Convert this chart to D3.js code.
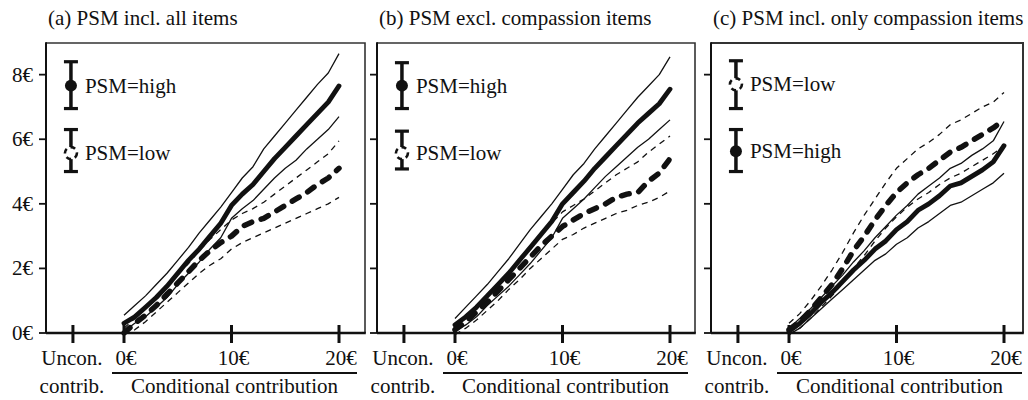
<!DOCTYPE html>
<html><head><meta charset="utf-8">
<script src="https://cdn.jsdelivr.net/npm/d3@7"></script>
<style>
body{margin:0;background:#fff}
svg{display:block}
text{font-family:"Liberation Serif","Times New Roman",serif;font-size:21px;fill:#111}
</style>
</head><body>
<svg id="chart" width="1028" height="400"></svg>
<script>
// ---------- data ----------
const xs = [0,1,2,3,4,5,6,7,8,9,10,11,12,13,14,15,16,17,18,19,20];
const panelTitles = ["(a) PSM incl. all items", "(b) PSM excl. compassion items", "(c) PSM incl. only compassion items"];
const yTicks = [0,2,4,6,8];
const yTickLabels = ["0€","2€","4€","6€","8€"];
const xTicks = [0,10,20];
const xTickLabels = ["0€","10€","20€"];
const unconPos = -4.75;
const unconLabel = ["Uncon.","contrib."];
const condLabel = "Conditional contribution";

// panel (a)
const aHiMean = [0.3,0.5,0.8,1.1,1.45,1.85,2.25,2.6,3.0,3.4,3.95,4.3,4.6,5.0,5.4,5.75,6.1,6.45,6.8,7.15,7.65];
const aHiUp   = [0.55,0.85,1.15,1.5,1.85,2.25,2.65,3.1,3.5,3.9,4.35,4.8,5.15,5.7,6.1,6.5,6.9,7.3,7.7,8.05,8.65];
const aHiLo   = [0.05,0.3,0.5,0.8,1.1,1.5,1.85,2.2,2.6,2.95,3.55,3.85,4.1,4.45,4.8,5.1,5.35,5.7,6.0,6.3,6.7];
const aLoMean = [0.0,0.3,0.55,0.85,1.2,1.55,1.9,2.25,2.55,2.8,3.0,3.3,3.45,3.55,3.75,3.95,4.15,4.35,4.6,4.8,5.1];
const aLoUp   = [0.15,0.45,0.75,1.05,1.45,1.8,2.15,2.55,2.9,3.2,3.5,3.7,3.85,4.05,4.3,4.55,4.8,5.05,5.3,5.55,5.95];
const aLoLo   = [-0.05,0.1,0.35,0.65,0.95,1.25,1.55,1.85,2.1,2.3,2.6,2.8,2.95,3.1,3.25,3.4,3.55,3.7,3.85,4.0,4.2];
// panel (b)
const bHiMean = [0.25,0.5,0.8,1.15,1.5,1.85,2.25,2.65,3.05,3.45,4.0,4.35,4.7,5.1,5.45,5.8,6.15,6.5,6.8,7.1,7.55];
const bHiUp   = [0.45,0.8,1.15,1.5,1.9,2.3,2.75,3.2,3.6,4.0,4.45,4.9,5.25,5.7,6.1,6.5,6.9,7.3,7.65,8.0,8.55];
const bHiLo   = [0.05,0.25,0.5,0.85,1.15,1.45,1.8,2.15,2.55,2.95,3.55,3.85,4.15,4.5,4.85,5.15,5.45,5.75,6.0,6.3,6.6];
const bLoMean = [0.1,0.35,0.65,0.95,1.3,1.65,2.0,2.35,2.7,3.0,3.3,3.5,3.7,3.85,4.0,4.2,4.3,4.35,4.7,4.95,5.4];
const bLoUp   = [0.25,0.55,0.85,1.2,1.55,1.9,2.3,2.65,3.05,3.4,3.75,3.95,4.15,4.4,4.65,4.9,5.1,5.3,5.6,5.85,6.1];
const bLoLo   = [-0.05,0.15,0.4,0.7,1.0,1.35,1.65,2.0,2.3,2.6,2.9,3.05,3.25,3.4,3.55,3.7,3.8,3.95,4.05,4.2,4.4];
// panel (c)
const cHiMean = [0.05,0.3,0.6,0.95,1.25,1.6,1.95,2.25,2.6,2.85,3.2,3.45,3.8,4.0,4.25,4.55,4.65,4.85,5.05,5.3,5.8];
const cHiUp   = [0.15,0.45,0.75,1.1,1.45,1.8,2.2,2.55,2.95,3.3,3.65,3.95,4.3,4.55,4.8,5.1,5.25,5.5,5.7,5.95,6.55];
const cHiLo   = [-0.05,0.15,0.45,0.75,1.05,1.35,1.65,1.95,2.25,2.45,2.75,2.95,3.25,3.45,3.7,3.95,4.05,4.25,4.45,4.65,4.95];
const cLoMean = [0.1,0.35,0.7,1.1,1.5,2.0,2.55,3.0,3.5,3.95,4.35,4.65,4.9,5.1,5.35,5.6,5.75,5.95,6.15,6.35,6.6];
const cLoUp   = [0.3,0.6,1.0,1.45,1.95,2.5,3.1,3.65,4.15,4.65,5.1,5.4,5.7,5.9,6.15,6.45,6.6,6.8,7.0,7.15,7.45];
const cLoLo   = [-0.05,0.15,0.45,0.8,1.15,1.55,2.0,2.4,2.85,3.25,3.6,3.9,4.15,4.35,4.6,4.8,4.95,5.15,5.35,5.55,5.8];

// unconditional contribution: [mean, lower, upper]
const unconHigh = [[7.66,6.95,8.4],[7.66,6.95,8.37],[5.63,5.0,6.3]];
const unconLow  = [[5.57,5.0,6.3],[5.57,5.08,6.25],[7.7,6.95,8.43]];
const highLabel = "PSM=high";
const lowLabel = "PSM=low";

const panels = [
  {hiMean:aHiMean,hiUp:aHiUp,hiLo:aHiLo,loMean:aLoMean,loUp:aLoUp,loLo:aLoLo},
  {hiMean:bHiMean,hiUp:bHiUp,hiLo:bHiLo,loMean:bLoMean,loUp:bLoUp,loLo:bLoLo},
  {hiMean:cHiMean,hiUp:cHiUp,hiLo:cHiLo,loMean:cLoMean,loUp:cLoUp,loLo:cLoLo}
];

// ---------- layout ----------
const panelLeft = [46,377,711];
const panelRight = [365,695,1023];
const plotTop = 43, plotBottom = 333;

const svg = d3.select("#chart");
const y = d3.scaleLinear().domain([0,8.98]).range([plotBottom, plotTop]);

panels.forEach((p, i) => {
  const L = panelLeft[i], R = panelRight[i];
  const x = d3.scaleLinear().domain([0,20]).range([L+78, L+293]);
  const g = svg.append("g");

  // title
  g.append("text").attr("x", L+2).attr("y", 25).text(panelTitles[i]);

  // frame
  g.append("path").attr("d", `M${L},${plotTop}H${R}V${plotBottom}`)
    .attr("fill","none").attr("stroke","#333").attr("stroke-width",i === 2 ? 2 : 1.6);
  g.append("line").attr("x1",L).attr("x2",L).attr("y1",plotTop-0.8).attr("y2",plotBottom)
    .attr("stroke","#111").attr("stroke-width",2);
  g.append("line").attr("x1",L).attr("x2",R+0.8).attr("y1",plotBottom).attr("y2",plotBottom)
    .attr("stroke","#111").attr("stroke-width",2.6);

  // y ticks
  yTicks.forEach((t, k) => {
    g.append("line").attr("x1",L-7).attr("x2",L).attr("y1",y(t)).attr("y2",y(t))
      .attr("stroke","#111").attr("stroke-width",1.8);
    if (i === 0) {
      g.append("text").attr("x",L-13).attr("y",y(t)+7).attr("text-anchor","end").text(yTickLabels[k]);
    }
  });

  // x ticks
  [unconPos].concat(xTicks).forEach(t => {
    g.append("line").attr("x1",x(t)).attr("x2",x(t)).attr("y1",plotBottom-8).attr("y2",plotBottom+10)
      .attr("stroke","#111").attr("stroke-width",3);
  });
  xTicks.forEach((t,k) => {
    g.append("text").attr("x",x(t)+2).attr("y",365).attr("text-anchor","middle").text(xTickLabels[k]);
  });
  g.append("text").attr("x",x(unconPos)-1).attr("y",365).attr("text-anchor","middle").text(unconLabel[0]);
  g.append("text").attr("x",x(unconPos)-1).attr("y",393).attr("text-anchor","middle").text(unconLabel[1]);
  g.append("line").attr("x1",L+66).attr("x2",L+311).attr("y1",373).attr("y2",373)
    .attr("stroke","#111").attr("stroke-width",2);
  g.append("text").attr("x",(L+66+L+311)/2).attr("y",393).attr("text-anchor","middle").text(condLabel);

  // lines
  const line = d3.line().x((d,k) => x(xs[k])).y(d => y(d));
  const styles = [
    {data:p.loUp, w:1.3, dash:"6,5", cap:"butt"},
    {data:p.loLo, w:1.3, dash:"6,5", cap:"butt"},
    {data:p.hiUp, w:1.3, dash:null, cap:"butt"},
    {data:p.hiLo, w:1.3, dash:null, cap:"butt"},
    {data:p.loMean, w:5.5, dash:"8,10", cap:"round"},
    {data:p.hiMean, w:4.8, dash:null, cap:"round"}
  ];
  styles.forEach(s => {
    const path = g.append("path").attr("d", line(s.data)).attr("fill","none")
      .attr("stroke","#111").attr("stroke-width",s.w).attr("stroke-linecap",s.cap)
      .attr("stroke-linejoin","round");
    if (s.dash) path.attr("stroke-dasharray", s.dash);
  });

  // unconditional error bars
  const ux = x(unconPos) - 2;
  const drawBar = (v, filled, label) => {
    const [m, lo, hi] = v;
    const r = 6;
    if (filled) {
      g.append("line").attr("x1",ux).attr("x2",ux).attr("y1",y(hi)).attr("y2",y(lo))
        .attr("stroke","#111").attr("stroke-width",3.5);
    } else {
      g.append("line").attr("x1",ux).attr("x2",ux).attr("y1",y(hi)).attr("y2",y(m)-r)
        .attr("stroke","#111").attr("stroke-width",3.5);
      g.append("line").attr("x1",ux).attr("x2",ux).attr("y1",y(m)+r).attr("y2",y(lo))
        .attr("stroke","#111").attr("stroke-width",3.5);
    }
    [hi, lo].forEach(c => {
      g.append("line").attr("x1",ux-7).attr("x2",ux+7).attr("y1",y(c)).attr("y2",y(c))
        .attr("stroke","#111").attr("stroke-width",3.2);
    });
    const c = g.append("circle").attr("cx",ux).attr("cy",y(m)).attr("r",r);
    if (filled) c.attr("fill","#111");
    else c.attr("fill","#fff").attr("stroke","#111").attr("stroke-width",2.6).attr("stroke-dasharray","5,4");
    g.append("text").attr("x",ux+14).attr("y",y(m)+7).text(label);
  };
  drawBar(unconHigh[i], true, highLabel);
  drawBar(unconLow[i], false, lowLabel);
});
</script>
</body></html>
